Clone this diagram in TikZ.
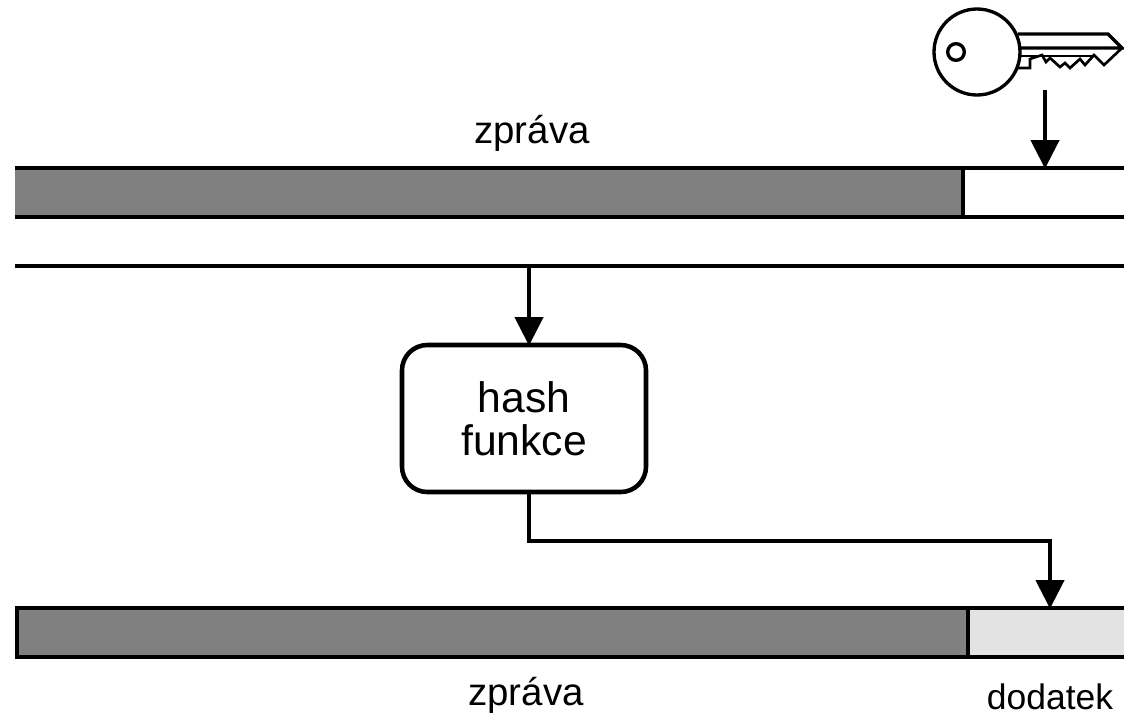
\documentclass[tikz,border=0pt]{standalone}
\usepackage{fontspec}
\setmainfont{Liberation Sans}
\usetikzlibrary{arrows.meta}
\definecolor{bargray}{gray}{0.5}
\definecolor{taggray}{gray}{0.89}
\tikzset{
  x=0.75pt,y=-0.75pt,
  heavy/.style={line width=3.4pt,black},
  keyline/.style={line width=2.5pt,black,line join=miter},
  flow/.style={heavy,-{Triangle[length=21.5pt,width=21pt]},shorten >=-0.5pt},
  part/.style={inner sep=0pt,outer sep=0pt,anchor=north west},
  label/.style={inner sep=0pt,text=black},
  hashbox/.style={heavy,rounded corners=19pt,inner sep=0pt,outer sep=0pt,minimum width=183pt,minimum height=110.25pt,align=center,font=\fontsize{32pt}{32pt}\selectfont}
}
\begin{document}
\begin{tikzpicture}
\useasboundingbox (0,0) rectangle (1124,715);
% top message bar
\node[part,fill=bargray,minimum width=711pt,minimum height=36.75pt] (msgA) at (15,168) {};
\node[part,fill=white,minimum width=120.75pt,minimum height=36.75pt] (keyA) at (963,168) {};
\draw[heavy] (15,168) -- (1124,168) (15,217) -- (1124,217) (963,168) -- (963,217);
\node[label,font=\fontsize{28.8pt}{30pt}\selectfont] (lblA) at (532,133) {zpráva};
% separate line
\coordinate (sepL) at (15,266);
\coordinate (sepR) at (1124,266);
\coordinate (sepT) at (529,266);
\draw[heavy] (sepL) -- (sepR);
% hash box
\node[draw,hashbox] (hash) at (524,418.5) {hash\\funkce};
% bottom bar
\node[part,fill=bargray,minimum width=713.25pt,minimum height=36.75pt] (msgB) at (17,608) {};
\node[part,fill=taggray,minimum width=117pt,minimum height=36.75pt] (tagB) at (968,608) {};
\draw[heavy] (1124,608) -- (17,608) -- (17,657) -- (1124,657) (968,608) -- (968,657);
\node[label,font=\fontsize{28.8pt}{30pt}\selectfont] (lblB) at (526,695) {zpráva};
\node[label,font=\fontsize{26.6pt}{30pt}\selectfont] (lblC) at (1050,696.5) {dodatek};
% key
\node[draw,circle,keyline,fill=white,minimum size=64.5pt,inner sep=0pt] (bow) at (977,52) {};
\node[draw,circle,keyline,minimum size=12.5pt,inner sep=0pt] (hole) at (956,52) {};
\draw[keyline] (1018,34) -- (1108,34) -- (1122,48) -- (1020,48);
\draw[black,line width=1.6pt] (1021,56) -- (1094,56);
\draw[keyline,line width=2pt] (1122,48) -- (1104,65) -- (1094,55) -- (1085,65) -- (1080,59) -- (1070,68) -- (1065,63) -- (1060,67) -- (1050,58) -- (1046,62) -- (1042,55) -- (1030,59) -- (1030,68) -- (1018,68);
\coordinate (keyEnd) at (1045,90);
% connectors
\draw[flow] (keyEnd) -- (keyEnd |- keyA.north);
\draw[flow] (sepT) -- (sepT |- hash.north);
\coordinate (tagIn) at (1050,608);
\draw[flow] (hash.south -| sepT) |- (1050,541) -- (tagIn);
\end{tikzpicture}
\end{document}
